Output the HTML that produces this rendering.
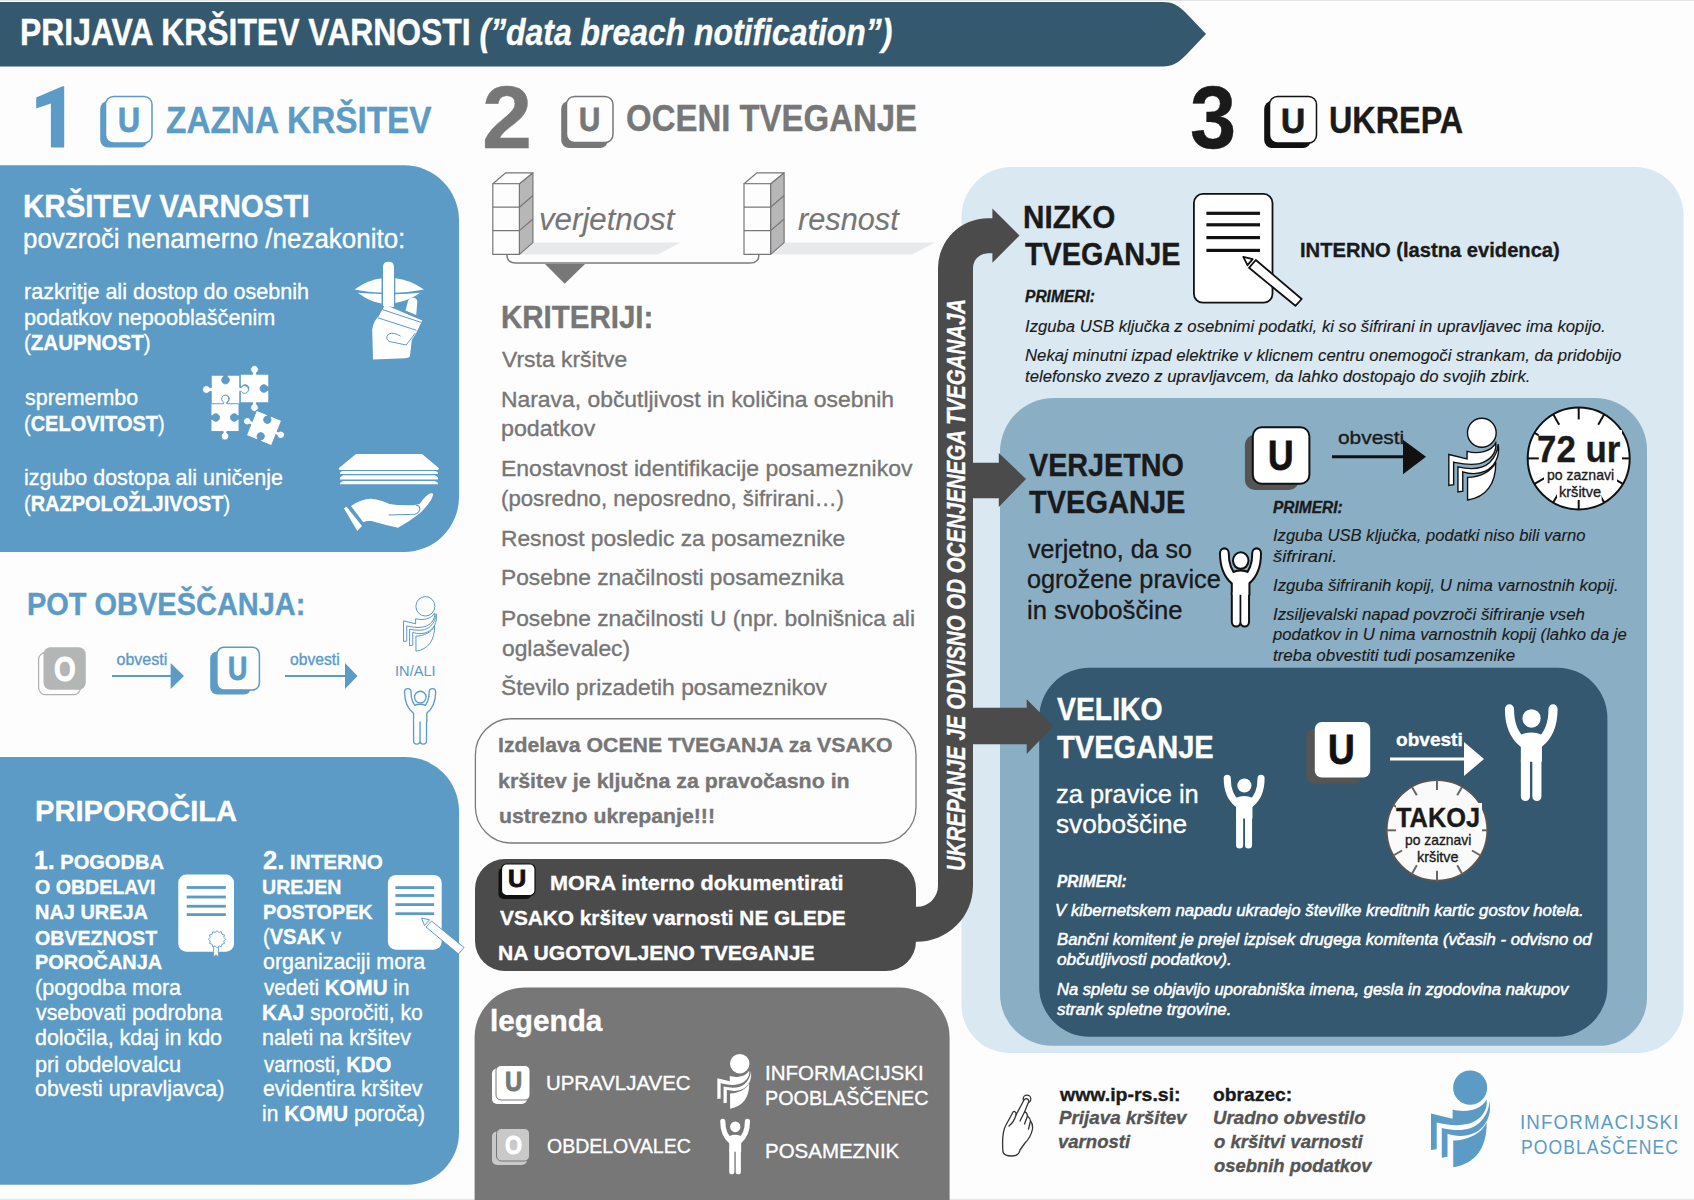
<!DOCTYPE html>
<html><head><meta charset="utf-8"><style>
html,body{margin:0;padding:0;}
body{width:1694px;height:1200px;position:relative;overflow:hidden;background:#fdfdfd;font-family:"Liberation Sans",sans-serif;}
.t{position:absolute;white-space:nowrap;transform-origin:0 0;-webkit-text-stroke:0.35px currentColor;}
.t b{font-weight:700}
.t i{font-style:italic}
svg{position:absolute;left:0;top:0;}
</style></head><body>
<svg width="1694" height="1200" viewBox="0 0 1694 1200">
<defs>
<symbol id="ip" viewBox="10 9 62 99" preserveAspectRatio="none" overflow="visible">
<circle cx="50.8" cy="27.3" r="17.3" vector-effect="non-scaling-stroke"/>
<path vector-effect="non-scaling-stroke" d="M11,53.2 L33,58.5 L33,49.4 C46,53 62,50 67.6,39.3 C69,52 60,61 48,64 C36,66.5 25,64 16.8,62.3 L16.8,89.2 L11,90 Z"/>
<path vector-effect="non-scaling-stroke" d="M22,68 C40,72 52,70 60,63 C66,57 70,50 70.5,40.7 C73,56 66,68 55,73 C46,77 36,76.5 27.8,73.8 L27.8,96.8 L22,97.8 Z"/>
<path vector-effect="non-scaling-stroke" d="M33.6,80.5 C48,80 62,74 67.6,62.3 C68,88 56,104 33.6,107.4 Z"/>
</symbol>
<symbol id="person" viewBox="9.6 6.9 53.2 96.1" preserveAspectRatio="none" overflow="visible">
<circle cx="36.5" cy="20.9" r="9.2"/>
<path d="M14.2,11.5 C14.2,26 19,38 28,45 M58.2,11.5 C58.2,26 53.4,38 44.4,45" fill="none" stroke-width="9.2" stroke-linecap="round"/>
<path d="M25.7,36 Q36.3,32.5 47,36 L47,64 L25.7,64 Z"/>
<path d="M30.3,62 L30.3,98.3 M41.9,62 L41.9,98.3" fill="none" stroke-width="9.2" stroke-linecap="round"/>
</symbol>
</defs>
<rect x="0" y="0" width="1694" height="1" fill="#e4e5e7"/>
<rect x="0" y="1198.8" width="1694" height="1.2" fill="#e6e7e9"/>
<path d="M0,2 H1163 C1172,2 1178,5 1186,13 L1206,34 L1186,55 C1178,63 1172,66.5 1163,66.5 H0 Z" fill="#34596f"/>
<path d="M-60.00,165.30 H404.00 A55,55 0 0 1 459.00,220.30 V497.00 A55,55 0 0 1 404.00,552.00 H-60.00 V165.30 Z" fill="#5b9bc6" />
<path d="M-60.00,757.00 H405.00 A54,54 0 0 1 459.00,811.00 V1132.70 A52,52 0 0 1 407.00,1184.70 H-60.00 V757.00 Z" fill="#5b9bc6" />
<path d="M1011.50,167.00 H1635.50 A48,48 0 0 1 1683.50,215.00 V1007.00 A46,46 0 0 1 1637.50,1053.00 H1009.50 A48,48 0 0 1 961.50,1005.00 V217.00 A50,50 0 0 1 1011.50,167.00 Z" fill="#d9e8f1" />
<path d="M1054.00,398.00 H1595.00 A52,52 0 0 1 1647.00,450.00 V997.80 A48,48 0 0 1 1599.00,1045.80 H1052.00 A52,52 0 0 1 1000.00,993.80 V452.00 A54,54 0 0 1 1054.00,398.00 Z" fill="#8aafc5" />
<path d="M1089.20,667.80 H1557.40 A50,50 0 0 1 1607.40,717.80 V986.70 A50,50 0 0 1 1557.40,1036.70 H1089.20 A50,50 0 0 1 1039.20,986.70 V717.80 A50,50 0 0 1 1089.20,667.80 Z" fill="#34586f" />
<rect x="475.4" y="718.75" width="440.6" height="124.25" rx="36" fill="#fdfdfd" stroke="#7a7a7a" stroke-width="1.3"/>
<path d="M505.00,859.00 H886.00 A30,30 0 0 1 916.00,889.00 V941.00 A30,30 0 0 1 886.00,971.00 H505.00 A30,30 0 0 1 475.00,941.00 V889.00 A30,30 0 0 1 505.00,859.00 Z" fill="#4b4b4b" />
<path d="M524.60,987.50 H899.60 A50,50 0 0 1 949.60,1037.50 V1200.00 H474.60 V1037.50 A50,50 0 0 1 524.60,987.50 Z" fill="#777777" />
<path d="M938,268 A50,50 0 0 1 988,218.2 H992.4 V208.6 L1019.5,235.4 L992.4,262.8 V253.2 H988 A15,15 0 0 0 973,268.2 V462.8 H998.8 V453 L1026,479 L998.8,507 V498.2 H973 V707.7 H1026.7 V699.3 L1053.3,726 L1026.7,754 V744.3 H973 V885.75 A56,56 0 0 1 917,941.75 H900 V906.8 H917 A21,21 0 0 0 938,885.8 Z" fill="#4b4b4b"/>
<rect x="100.20" y="101.00" width="47.40" height="46.60" rx="8" fill="#5b9bc6"/>
<rect x="105.50" y="96.50" width="46.50" height="46.50" rx="8" fill="#fdfdfd" stroke="#5b9bc6" stroke-width="1.5"/>
<rect x="561.20" y="101.00" width="46.80" height="47.00" rx="8" fill="#777"/>
<rect x="566.50" y="96.50" width="46.50" height="46.00" rx="8" fill="#fdfdfd" stroke="#777" stroke-width="1.5"/>
<rect x="1264.20" y="101.00" width="46.80" height="47.00" rx="8" fill="#111"/>
<rect x="1269.50" y="96.50" width="47.00" height="46.50" rx="8" fill="#fdfdfd" stroke="#111" stroke-width="1.5"/>
<rect x="38.60" y="652.60" width="42.00" height="42.00" rx="7" fill="#fdfdfd" stroke="#b0b0b0" stroke-width="1.2"/>
<rect x="43.50" y="647.25" width="42.25" height="42.50" rx="7" fill="#b4b5b5"/>
<rect x="210.20" y="651.50" width="40.80" height="43.10" rx="7" fill="#5b9bc6"/>
<rect x="216.90" y="647.30" width="42.50" height="42.70" rx="7" fill="#fdfdfd" stroke="#5b9bc6" stroke-width="1.5"/>
<rect x="498.50" y="867.50" width="33.00" height="31.50" rx="5" fill="#111"/>
<rect x="501.50" y="864.00" width="33.50" height="31.50" rx="5" fill="#fff" stroke="#111" stroke-width="1.2"/>
<rect x="492.00" y="1068.50" width="35.00" height="35.50" rx="5" fill="#fff"/>
<rect x="496.00" y="1065.50" width="34.00" height="34.50" rx="5" fill="#fff" stroke="#777" stroke-width="1"/>
<rect x="492.00" y="1131.50" width="35.00" height="33.50" rx="5" fill="#c9c9c9"/>
<rect x="496.50" y="1128.50" width="33.00" height="32.50" rx="5" fill="#c9c9c9" stroke="#777" stroke-width="1"/>
<rect x="1244.90" y="434.70" width="54.10" height="55.30" rx="10" fill="#545454"/>
<rect x="1252.80" y="427.20" width="56.60" height="56.60" rx="9" fill="#fff" stroke="#111" stroke-width="2"/>
<rect x="1306.30" y="728.80" width="54.90" height="54.90" rx="8" fill="#555"/>
<rect x="1314.80" y="722.00" width="55.40" height="55.60" rx="7" fill="#fff"/>
<line x1="112.00" y1="676.00" x2="171.60" y2="676.00" stroke="#5b9bc6" stroke-width="1.8"/>
<path d="M170.60,663.00 L184.00,676.00 L170.60,689.00 Z" fill="#5b9bc6"/>
<line x1="285.00" y1="676.00" x2="346.00" y2="676.00" stroke="#5b9bc6" stroke-width="1.8"/>
<path d="M345.00,663.00 L357.50,676.00 L345.00,689.00 Z" fill="#5b9bc6"/>
<line x1="1332.00" y1="456.80" x2="1404.00" y2="456.80" stroke="#111" stroke-width="3"/>
<path d="M1403.00,439.70 L1426.00,456.80 L1403.00,474.30 Z" fill="#111"/>
<line x1="1390.00" y1="759.00" x2="1465.00" y2="759.00" stroke="#fff" stroke-width="3"/>
<path d="M1464.00,742.00 L1484.00,759.00 L1464.00,776.00 Z" fill="#fff"/>
<use href="#ip" x="403.00" y="596.00" width="34.00" height="55.60" fill="#fdfdfd" stroke="#5b9bc6" stroke-width="1.0"/>
<use href="#ip" x="1430.00" y="1069.50" width="61.00" height="98.30" fill="#5b9bc6"/>
<use href="#ip" x="716.80" y="1053.40" width="34.90" height="55.60" fill="#fff"/>
<use href="#ip" x="1448.00" y="417.40" width="51.40" height="83.10" fill="#fff" stroke="#111" stroke-width="1.4"/>
<polygon points="64.2,86.3 64.2,147.6 50.9,147.6 50.9,103.5 36.2,108.5 36.2,97.5 62.5,86.3" fill="#5b9bc6"/>
<g transform="translate(405.20,689.20) scale(0.5602,0.5650) translate(-9.6,-6.9)"><circle cx="36.5" cy="20.9" r="11.52" fill="#5b9bc6"/><path d="M14.2,11.5 C14.2,26 19,38 28,45 M58.2,11.5 C58.2,26 53.4,38 44.4,45" fill="none" stroke="#5b9bc6" stroke-width="13.84" stroke-linecap="round"/><path d="M25.7,37 Q36.3,32.5 47,37 L47,64 L25.7,64 Z" fill="#5b9bc6" stroke="#5b9bc6" stroke-width="4.64" stroke-linejoin="round"/><path d="M30.3,62 L30.3,98.3 M41.9,62 L41.9,98.3" fill="none" stroke="#5b9bc6" stroke-width="13.84" stroke-linecap="round"/><circle cx="36.5" cy="20.9" r="9.20" fill="#fdfdfd"/><path d="M14.2,11.5 C14.2,26 19,38 28,45 M58.2,11.5 C58.2,26 53.4,38 44.4,45" fill="none" stroke="#fdfdfd" stroke-width="9.20" stroke-linecap="round"/><path d="M25.7,37 Q36.3,32.5 47,37 L47,64 L25.7,64 Z" fill="#fdfdfd" stroke="#fdfdfd" stroke-width="0.01" stroke-linejoin="round"/><path d="M30.3,62 L30.3,98.3 M41.9,62 L41.9,98.3" fill="none" stroke="#fdfdfd" stroke-width="9.20" stroke-linecap="round"/></g>
<g transform="translate(1221.00,549.50) scale(0.7331,0.7908) translate(-9.6,-6.9)"><circle cx="36.5" cy="20.9" r="11.93" fill="#111"/><path d="M14.2,11.5 C14.2,26 19,38 28,45 M58.2,11.5 C58.2,26 53.4,38 44.4,45" fill="none" stroke="#111" stroke-width="14.66" stroke-linecap="round"/><path d="M25.7,37 Q36.3,32.5 47,37 L47,64 L25.7,64 Z" fill="#111" stroke="#111" stroke-width="5.46" stroke-linejoin="round"/><path d="M30.3,62 L30.3,98.3 M41.9,62 L41.9,98.3" fill="none" stroke="#111" stroke-width="14.66" stroke-linecap="round"/><circle cx="36.5" cy="20.9" r="9.20" fill="#fff"/><path d="M14.2,11.5 C14.2,26 19,38 28,45 M58.2,11.5 C58.2,26 53.4,38 44.4,45" fill="none" stroke="#fff" stroke-width="9.20" stroke-linecap="round"/><path d="M25.7,37 Q36.3,32.5 47,37 L47,64 L25.7,64 Z" fill="#fff" stroke="#fff" stroke-width="0.01" stroke-linejoin="round"/><path d="M30.3,62 L30.3,98.3 M41.9,62 L41.9,98.3" fill="none" stroke="#fff" stroke-width="9.20" stroke-linecap="round"/></g>
<g transform="translate(1223.70,774.70) scale(0.7688,0.7680) translate(-9.6,-6.9)"><circle cx="36.5" cy="20.9" r="9.20" fill="#fff"/><path d="M14.2,11.5 C14.2,26 19,38 28,45 M58.2,11.5 C58.2,26 53.4,38 44.4,45" fill="none" stroke="#fff" stroke-width="9.20" stroke-linecap="round"/><path d="M25.7,37 Q36.3,32.5 47,37 L47,64 L25.7,64 Z" fill="#fff" stroke="#fff" stroke-width="0.01" stroke-linejoin="round"/><path d="M30.3,62 L30.3,98.3 M41.9,62 L41.9,98.3" fill="none" stroke="#fff" stroke-width="9.20" stroke-linecap="round"/></g>
<g transform="translate(1504.90,704.30) scale(0.9906,1.0083) translate(-9.6,-6.9)"><circle cx="36.5" cy="20.9" r="9.20" fill="#fff"/><path d="M14.2,11.5 C14.2,26 19,38 28,45 M58.2,11.5 C58.2,26 53.4,38 44.4,45" fill="none" stroke="#fff" stroke-width="9.20" stroke-linecap="round"/><path d="M25.7,37 Q36.3,32.5 47,37 L47,64 L25.7,64 Z" fill="#fff" stroke="#fff" stroke-width="0.01" stroke-linejoin="round"/><path d="M30.3,62 L30.3,98.3 M41.9,62 L41.9,98.3" fill="none" stroke="#fff" stroke-width="9.20" stroke-linecap="round"/></g>
<g transform="translate(720.20,1118.70) scale(0.5602,0.5796) translate(-9.6,-6.9)"><circle cx="36.5" cy="20.9" r="9.20" fill="#fff"/><path d="M14.2,11.5 C14.2,26 19,38 28,45 M58.2,11.5 C58.2,26 53.4,38 44.4,45" fill="none" stroke="#fff" stroke-width="9.20" stroke-linecap="round"/><path d="M25.7,37 Q36.3,32.5 47,37 L47,64 L25.7,64 Z" fill="#fff" stroke="#fff" stroke-width="0.01" stroke-linejoin="round"/><path d="M30.3,62 L30.3,98.3 M41.9,62 L41.9,98.3" fill="none" stroke="#fff" stroke-width="9.20" stroke-linecap="round"/></g>
<g transform="translate(340,250) scale(0.1)" fill="#fff">
<path d="M430,560 L430,170 Q430,118 485,118 Q540,118 540,170 L540,570 Z"/>
<path d="M145,395 Q290,295 415,283 L415,425 Q290,425 145,395 Z"/>
<path d="M178,428 Q290,438 415,440 L415,535 Q300,520 178,428 Z"/>
<path d="M553,283 Q690,295 840,395 Q700,422 553,428 Z"/>
<path d="M553,442 Q690,440 800,428 Q700,505 553,530 Z"/>
<path d="M330,1095 L322,800 Q330,715 385,665 L450,548 L822,705 L762,830 L718,900 L700,1060 Q690,1080 650,1082 Z"/>
<path d="M655,605 L682,505 Q700,470 740,478 Q780,490 772,530 L762,650 Z"/>
<path d="M425,596 L815,725 M378,678 L765,803" stroke="#5b9bc6" stroke-width="10" fill="none"/>
<path d="M607,862 Q540,818 485,840 Q445,880 492,915 L662,950 L752,832" stroke="#5b9bc6" stroke-width="10" fill="none"/>
</g>
<g transform="translate(195,360)">
<path transform="translate(59.50,28.50) rotate(0)" d="M-14.25,-14.25 L-1.85,-14.25 L-1.85,-15.72 A3.85,3.85 0 1 1 1.85,-15.72 L1.85,-14.25 L14.25,-14.25 L14.25,-1.85 L12.78,-1.85 A3.85,3.85 0 1 0 12.78,1.85 L14.25,1.85 L14.25,14.25 L1.85,14.25 L1.85,15.72 A3.85,3.85 0 1 1 -1.85,15.72 L-1.85,14.25 L-14.25,14.25 L-14.25,1.85 L-12.78,1.85 A3.85,3.85 0 1 0 -12.78,-1.85 L-14.25,-1.85 L-14.25,-14.25 Z" fill="#fff" stroke="#5b9bc6" stroke-width="0.9"/>
<path transform="translate(30.00,57.50) rotate(0)" d="M-14.00,-14.00 L-1.82,-14.00 L-1.82,-15.45 A3.78,3.78 0 1 1 1.82,-15.45 L1.82,-14.00 L14.00,-14.00 L14.00,-1.82 L12.55,-1.82 A3.78,3.78 0 1 0 12.55,1.82 L14.00,1.82 L14.00,14.00 L1.82,14.00 L1.82,15.45 A3.78,3.78 0 1 1 -1.82,15.45 L-1.82,14.00 L-14.00,14.00 L-14.00,1.82 L-12.55,1.82 A3.78,3.78 0 1 0 -12.55,-1.82 L-14.00,-1.82 L-14.00,-14.00 Z" fill="#fff" stroke="#5b9bc6" stroke-width="0.9"/>
<path transform="translate(30.50,29.50) rotate(0)" d="M-14.25,-14.25 L-1.85,-14.25 L-1.85,-12.78 A3.85,3.85 0 1 0 1.85,-12.78 L1.85,-14.25 L14.25,-14.25 L14.25,-1.85 L15.72,-1.85 A3.85,3.85 0 1 1 15.72,1.85 L14.25,1.85 L14.25,14.25 L1.85,14.25 L1.85,12.78 A3.85,3.85 0 1 0 -1.85,12.78 L-1.85,14.25 L-14.25,14.25 L-14.25,1.85 L-15.72,1.85 A3.85,3.85 0 1 1 -15.72,-1.85 L-14.25,-1.85 L-14.25,-14.25 Z" fill="#fff" stroke="#5b9bc6" stroke-width="0.9"/>
<path transform="translate(69.00,68.00) rotate(22)" d="M-13.50,-13.50 L-1.76,-13.50 L-1.76,-12.10 A3.65,3.65 0 1 0 1.76,-12.10 L1.76,-13.50 L13.50,-13.50 L13.50,-1.76 L14.90,-1.76 A3.65,3.65 0 1 1 14.90,1.76 L13.50,1.76 L13.50,13.50 L1.76,13.50 L1.76,12.10 A3.65,3.65 0 1 0 -1.76,12.10 L-1.76,13.50 L-13.50,13.50 L-13.50,1.76 L-14.90,1.76 A3.65,3.65 0 1 1 -14.90,-1.76 L-13.50,-1.76 L-13.50,-13.50 Z" fill="#fff" stroke="#5b9bc6" stroke-width="0.9"/>
</g>
<g transform="translate(330,445)" fill="#fff">
<path d="M26,9.1 L92,9.1 L109,23.2 L108,25 L9.5,25 L8.7,23.2 Z"/>
<path d="M10,27.8 L12,26 L106,26 L108,27.8 L108,29 L10,29 Z"/>
<path d="M10,32.5 L13,30.2 L105,30.2 L108,32.5 L108,34.6 L10,34.6 Z"/>
<path d="M10,38 L13,36 L105,36 L108,38 L108,39.3 L10,39.3 Z"/>
<path d="M13.9,63.3 L16.6,61.8 L32,81 L27.3,86 Z"/>
<path d="M21,61 Q31,54 41,53.8 Q52,55 59.4,59 Q69,60.8 84,60.2 L89.5,59 Q96,50 100,48.5 Q103.5,47.5 103,50 Q102,56 91,67.3 Q85,72 79.2,76 L68.1,82.7 Q55,80 41.2,76 Q36,75.5 33.3,77.2 Z"/>
<path d="M58.6,70 L85,69.3 Q89.5,68 89.8,63.5 Q89.5,60.5 86,60.3" fill="none" stroke="#5b9bc6" stroke-width="1.1"/>
<path d="M85,56 L95,48 M87,58 L97,49.5" fill="none" stroke="#5b9bc6" stroke-width="0.5"/>
</g>
<g transform="translate(170,865)">
<rect x="8.3" y="9.6" width="55.7" height="77.1" rx="8" fill="#fff"/>
<rect x="16.7" y="21.10" width="39.1" height="2.8" fill="#5b9bc6"/>
<rect x="16.7" y="30.60" width="39.1" height="2.8" fill="#5b9bc6"/>
<rect x="16.7" y="39.85" width="39.1" height="2.8" fill="#5b9bc6"/>
<rect x="16.7" y="48.20" width="39.1" height="2.8" fill="#5b9bc6"/>
<path d="M43.5,80 L43.5,92 L46,90 L48.5,92 L48.5,80 Z" fill="#fff" stroke="#5b9bc6" stroke-width="0.8"/>
<polygon points="55.60,74.20 53.76,76.01 54.45,78.50 51.95,79.15 51.30,81.65 48.81,80.96 47.00,82.80 45.19,80.96 42.70,81.65 42.05,79.15 39.55,78.50 40.24,76.01 38.40,74.20 40.24,72.39 39.55,69.90 42.05,69.25 42.70,66.75 45.19,67.44 47.00,65.60 48.81,67.44 51.30,66.75 51.95,69.25 54.45,69.90 53.76,72.39" fill="#fff" stroke="#5b9bc6" stroke-width="0.9"/>
</g>
<g transform="translate(378.00,865.00)"><rect x="9.90" y="9.90" width="53.80" height="74.80" rx="8" fill="#fff" /><rect x="17.40" y="21.20" width="38.80" height="2.80" fill="#5b9bc6"/><rect x="17.40" y="29.10" width="38.80" height="2.80" fill="#5b9bc6"/><rect x="17.40" y="38.20" width="38.80" height="2.80" fill="#5b9bc6"/><rect x="17.40" y="47.30" width="38.80" height="2.80" fill="#5b9bc6"/><polygon points="43.5,53 51.5,54.8 46.5,60.5" fill="#fff" stroke="#5b9bc6" stroke-width="1.0" stroke-linejoin="round"/><polygon points="53.5,56 48,62 80.5,89 86,82.5" fill="#fff" stroke="#5b9bc6" stroke-width="1.0" stroke-linejoin="round"/></g>
<g transform="translate(1185.00,185.00)"><rect x="8.90" y="8.90" width="78.60" height="108.80" rx="9" fill="#fff" stroke="#111" stroke-width="1.8"/><rect x="21.40" y="26.70" width="53.60" height="3.20" fill="#111"/><rect x="21.40" y="38.20" width="53.60" height="3.20" fill="#111"/><rect x="21.40" y="51.00" width="53.60" height="3.20" fill="#111"/><rect x="21.40" y="63.80" width="53.60" height="3.20" fill="#111"/><polygon points="58.3,71.9 67.7,74.2 62.5,80.2" fill="#fff" stroke="#111" stroke-width="1.8" stroke-linejoin="round"/><polygon points="70.8,75 64,82.8 110.4,120.8 116.7,114" fill="#fff" stroke="#111" stroke-width="1.8" stroke-linejoin="round"/></g>
<polygon points="519.4,254.4 533,242.6 681,242.6 658,254.4" fill="#e8e9eb"/>
<polygon points="770.6,254.4 784.1,242.6 935,242.6 912,254.4" fill="#e8e9eb"/>
<path d="M506.9,254.4 Q506.9,263 516,263 H750 Q759,263 759,254.4" fill="none" stroke="#7a7a7a" stroke-width="1.4"/>
<g transform="translate(485.00,165)" stroke="#777" stroke-width="1.2" stroke-linejoin="round"><polygon points="34.4,18.75 47.9,7.8 47.9,77.6 34.4,89.4" fill="#b7b7b7"/><polygon points="7.8,18.75 20.8,7.8 47.9,7.8 34.4,18.75" fill="#fdfdfd"/><rect x="7.8" y="18.75" width="26.6" height="70.65" fill="#fdfdfd"/><path d="M7.8,42.2 H34.4 M7.8,65.6 H34.4 M34.4,42.2 L47.9,30.5 M34.4,65.6 L47.9,54" fill="none"/></g>
<g transform="translate(736.20,165)" stroke="#777" stroke-width="1.2" stroke-linejoin="round"><polygon points="34.4,18.75 47.9,7.8 47.9,77.6 34.4,89.4" fill="#b7b7b7"/><polygon points="7.8,18.75 20.8,7.8 47.9,7.8 34.4,18.75" fill="#fdfdfd"/><rect x="7.8" y="18.75" width="26.6" height="70.65" fill="#fdfdfd"/><path d="M7.8,42.2 H34.4 M7.8,65.6 H34.4 M34.4,42.2 L47.9,30.5 M34.4,65.6 L47.9,54" fill="none"/></g>
<polygon points="545,264 585,264 564.7,283.75" fill="#777"/>
<circle cx="1578.70" cy="458.40" r="51.00" fill="#fff" stroke="#111" stroke-width="2"/><line x1="1629.70" y1="458.40" x2="1617.70" y2="458.40" stroke="#111" stroke-width="2"/><line x1="1622.87" y1="483.90" x2="1612.47" y2="477.90" stroke="#111" stroke-width="2"/><line x1="1604.20" y1="502.57" x2="1598.20" y2="492.17" stroke="#111" stroke-width="2"/><line x1="1578.70" y1="509.40" x2="1578.70" y2="497.40" stroke="#111" stroke-width="2"/><line x1="1553.20" y1="502.57" x2="1559.20" y2="492.17" stroke="#111" stroke-width="2"/><line x1="1534.53" y1="483.90" x2="1544.93" y2="477.90" stroke="#111" stroke-width="2"/><line x1="1527.70" y1="458.40" x2="1539.70" y2="458.40" stroke="#111" stroke-width="2"/><line x1="1534.53" y1="432.90" x2="1544.93" y2="438.90" stroke="#111" stroke-width="2"/><line x1="1553.20" y1="414.23" x2="1559.20" y2="424.63" stroke="#111" stroke-width="2"/><line x1="1578.70" y1="407.40" x2="1578.70" y2="419.40" stroke="#111" stroke-width="2"/><line x1="1604.20" y1="414.23" x2="1598.20" y2="424.63" stroke="#111" stroke-width="2"/><line x1="1622.87" y1="432.90" x2="1612.47" y2="438.90" stroke="#111" stroke-width="2"/>
<circle cx="1437.00" cy="830.30" r="50.40" fill="#fafafa" stroke="#555" stroke-width="2"/><line x1="1487.40" y1="830.30" x2="1477.40" y2="830.30" stroke="#666" stroke-width="2"/><line x1="1480.65" y1="855.50" x2="1471.99" y2="850.50" stroke="#666" stroke-width="2"/><line x1="1462.20" y1="873.95" x2="1457.20" y2="865.29" stroke="#666" stroke-width="2"/><line x1="1437.00" y1="880.70" x2="1437.00" y2="870.70" stroke="#666" stroke-width="2"/><line x1="1411.80" y1="873.95" x2="1416.80" y2="865.29" stroke="#666" stroke-width="2"/><line x1="1393.35" y1="855.50" x2="1402.01" y2="850.50" stroke="#666" stroke-width="2"/><line x1="1386.60" y1="830.30" x2="1396.60" y2="830.30" stroke="#666" stroke-width="2"/><line x1="1393.35" y1="805.10" x2="1402.01" y2="810.10" stroke="#666" stroke-width="2"/><line x1="1411.80" y1="786.65" x2="1416.80" y2="795.31" stroke="#666" stroke-width="2"/><line x1="1437.00" y1="779.90" x2="1437.00" y2="789.90" stroke="#666" stroke-width="2"/><line x1="1462.20" y1="786.65" x2="1457.20" y2="795.31" stroke="#666" stroke-width="2"/><line x1="1480.65" y1="805.10" x2="1471.99" y2="810.10" stroke="#666" stroke-width="2"/>
<rect x="1538.8" y="430" width="83.2" height="36" fill="#fff"/><rect x="1544" y="466" width="73" height="17" fill="#fff"/><rect x="1557" y="483" width="44.6" height="17" fill="#fff"/>
<rect x="1396" y="803" width="86" height="30" fill="#fafafa"/>
<g transform="translate(990,1085)" fill="#fff" stroke="#333" stroke-width="1.3" stroke-linejoin="round" stroke-linecap="round">
<circle cx="37" cy="14" r="3.8" fill="none"/>
<path d="M13,67 C12,55 13,45 16,40 L23,27 Q24.5,25.5 26,28 L26,30 L34,15 Q37,12 39,16 L34.5,27 Q37,27 37.5,31 Q40,33 40.5,36 Q43,39 42.5,44 Q41,52 35,58 L30,65 Q29,71 22,71 Q14,71 13,67 Z"/>
<path d="M19,41 Q24,37 26,30 M30,36 L34.5,27 M34.5,39 L37.5,31 M38.5,44 L40.5,36" fill="none"/>
</g>
</svg>
<div class="t" id="t0" style="left:20.37px;top:14.53px;font-size:36px;color:#fff;font-weight:700;font-style:normal;line-height:36px;transform:scaleX(0.8859);">PRIJAVA KRŠITEV VARNOSTI <i>(”data breach notification”)</i></div>
<div class="t" id="t1" style="left:166.35px;top:103.03px;font-size:36px;color:#5b9bc6;font-weight:700;font-style:normal;line-height:36px;transform:scaleX(0.9266);">ZAZNA KRŠITEV</div>
<div class="t" id="t2" style="left:482.47px;top:72.66px;font-size:89px;color:#777;font-weight:700;font-style:normal;line-height:89px;transform:scaleX(1.0116);">2</div>
<div class="t" id="t3" style="left:626.29px;top:99.68px;font-size:37px;color:#777;font-weight:700;font-style:normal;line-height:37px;transform:scaleX(0.8904);">OCENI TVEGANJE</div>
<div class="t" id="t4" style="left:1189.87px;top:72.66px;font-size:89px;color:#1a1a1a;font-weight:700;font-style:normal;line-height:89px;transform:scaleX(0.9318);">3</div>
<div class="t" id="t5" style="left:1329.42px;top:101.68px;font-size:37px;color:#1a1a1a;font-weight:700;font-style:normal;line-height:37px;transform:scaleX(0.8742);">UKREPA</div>
<div class="t" id="t6" style="left:117.90px;top:102.37px;font-size:35px;color:#5b9bc6;font-weight:700;font-style:normal;line-height:35px;transform:scaleX(0.8696);-webkit-text-stroke:0.9px currentColor;">U</div>
<div class="t" id="t7" style="left:578.99px;top:102.22px;font-size:34px;color:#777;font-weight:700;font-style:normal;line-height:34px;transform:scaleX(0.8636);-webkit-text-stroke:0.9px currentColor;">U</div>
<div class="t" id="t8" style="left:1281.43px;top:102.87px;font-size:35px;color:#1a1a1a;font-weight:700;font-style:normal;line-height:35px;transform:scaleX(0.9545);-webkit-text-stroke:0.9px currentColor;">U</div>
<div class="t" id="t9" style="left:23.45px;top:191.16px;font-size:31px;color:#fff;font-weight:700;font-style:normal;line-height:31px;transform:scaleX(0.9529);">KRŠITEV VARNOSTI</div>
<div class="t" id="t10" style="left:23.26px;top:225.64px;font-size:27px;color:#fff;font-weight:400;font-style:normal;line-height:27px;transform:scaleX(0.9612);">povzroči nenamerno /nezakonito:</div>
<div class="t" id="t11" style="left:24.10px;top:281.18px;font-size:22px;color:#fff;font-weight:400;font-style:normal;line-height:22px;transform:scaleX(0.9792);">razkritje ali dostop do osebnih</div>
<div class="t" id="t12" style="left:24.03px;top:306.78px;font-size:22px;color:#fff;font-weight:400;font-style:normal;line-height:22px;transform:scaleX(0.9831);">podatkov nepooblaščenim</div>
<div class="t" id="t13" style="left:24.31px;top:332.18px;font-size:22px;color:#fff;font-weight:400;font-style:normal;line-height:22px;transform:scaleX(0.9328);">(<b>ZAUPNOST</b>)</div>
<div class="t" id="t14" style="left:25.00px;top:386.88px;font-size:22px;color:#fff;font-weight:400;font-style:normal;line-height:22px;transform:scaleX(0.9741);">spremembo</div>
<div class="t" id="t15" style="left:24.40px;top:412.68px;font-size:22px;color:#fff;font-weight:400;font-style:normal;line-height:22px;transform:scaleX(0.9085);">(<b>CELOVITOST</b>)</div>
<div class="t" id="t16" style="left:24.10px;top:467.38px;font-size:22px;color:#fff;font-weight:400;font-style:normal;line-height:22px;transform:scaleX(0.9754);">izgubo dostopa ali uničenje</div>
<div class="t" id="t17" style="left:24.40px;top:493.08px;font-size:22px;color:#fff;font-weight:400;font-style:normal;line-height:22px;transform:scaleX(0.9071);">(<b>RAZPOLOŽLJIVOST</b>)</div>
<div class="t" id="t18" style="left:26.50px;top:589.26px;font-size:31px;color:#5b9bc6;font-weight:700;font-style:normal;line-height:31px;transform:scaleX(0.9344);">POT OBVEŠČANJA:</div>
<div class="t" id="t19" style="left:116.50px;top:651.86px;font-size:16px;color:#5b9bc6;font-weight:400;font-style:normal;line-height:16px;">obvesti</div>
<div class="t" id="t20" style="left:290.00px;top:651.86px;font-size:16px;color:#5b9bc6;font-weight:400;font-style:normal;line-height:16px;transform:scaleX(0.9800);">obvesti</div>
<div class="t" id="t21" style="left:395.10px;top:663.30px;font-size:15px;color:#5b9bc6;font-weight:400;font-style:normal;line-height:15px;transform:scaleX(0.9750);-webkit-text-stroke:0;">IN/ALI</div>
<div class="t" id="t22" style="left:53.64px;top:650.62px;font-size:35px;color:#fff;font-weight:700;font-style:normal;line-height:35px;transform:scaleX(0.7981);-webkit-text-stroke:0.9px currentColor;">O</div>
<div class="t" id="t23" style="left:227.63px;top:652.79px;font-size:32.5px;color:#5b9bc6;font-weight:700;font-style:normal;line-height:32.5px;transform:scaleX(0.8214);-webkit-text-stroke:0.9px currentColor;">U</div>
<div class="t" id="t24" style="left:34.74px;top:797.45px;font-size:29px;color:#fff;font-weight:700;font-style:normal;line-height:29px;transform:scaleX(1.0030);">PRIPOROČILA</div>
<div class="t" id="t25" style="left:34.34px;top:850.22px;font-size:21px;color:#fff;font-weight:700;font-style:normal;line-height:21px;transform:scaleX(0.9552);"><span style="font-size:26px">1.</span> POGODBA</div>
<div class="t" id="t26" style="left:35.31px;top:875.82px;font-size:21px;color:#fff;font-weight:700;font-style:normal;line-height:21px;transform:scaleX(0.9331);">O OBDELAVI</div>
<div class="t" id="t27" style="left:35.23px;top:900.92px;font-size:21px;color:#fff;font-weight:700;font-style:normal;line-height:21px;transform:scaleX(0.9492);">NAJ UREJA</div>
<div class="t" id="t28" style="left:35.30px;top:927.22px;font-size:21px;color:#fff;font-weight:700;font-style:normal;line-height:21px;transform:scaleX(0.9346);">OBVEZNOST</div>
<div class="t" id="t29" style="left:35.23px;top:951.22px;font-size:21px;color:#fff;font-weight:700;font-style:normal;line-height:21px;transform:scaleX(0.9474);">POROČANJA</div>
<div class="t" id="t30" style="left:35.10px;top:976.98px;font-size:22px;color:#fff;font-weight:400;font-style:normal;line-height:22px;transform:scaleX(0.9792);">(pogodba mora</div>
<div class="t" id="t31" style="left:36.00px;top:1002.08px;font-size:22px;color:#fff;font-weight:400;font-style:normal;line-height:22px;transform:scaleX(0.9688);">vsebovati podrobna</div>
<div class="t" id="t32" style="left:35.10px;top:1027.38px;font-size:22px;color:#fff;font-weight:400;font-style:normal;line-height:22px;transform:scaleX(0.9737);">določila, kdaj in kdo</div>
<div class="t" id="t33" style="left:35.01px;top:1053.88px;font-size:22px;color:#fff;font-weight:400;font-style:normal;line-height:22px;transform:scaleX(0.9863);">pri obdelovalcu</div>
<div class="t" id="t34" style="left:35.10px;top:1078.18px;font-size:22px;color:#fff;font-weight:400;font-style:normal;line-height:22px;transform:scaleX(0.9736);">obvesti upravljavca)</div>
<div class="t" id="t35" style="left:263.22px;top:850.22px;font-size:21px;color:#fff;font-weight:700;font-style:normal;line-height:21px;transform:scaleX(0.9826);"><span style="font-size:26px">2.</span> INTERNO</div>
<div class="t" id="t36" style="left:262.48px;top:875.82px;font-size:21px;color:#fff;font-weight:700;font-style:normal;line-height:21px;transform:scaleX(0.9325);">UREJEN</div>
<div class="t" id="t37" style="left:262.55px;top:900.92px;font-size:21px;color:#fff;font-weight:700;font-style:normal;line-height:21px;transform:scaleX(0.9426);">POSTOPEK</div>
<div class="t" id="t38" style="left:262.69px;top:926.38px;font-size:22px;color:#fff;font-weight:400;font-style:normal;line-height:22px;transform:scaleX(0.9106);">(<b>VSAK</b> v</div>
<div class="t" id="t39" style="left:263.22px;top:951.38px;font-size:22px;color:#fff;font-weight:400;font-style:normal;line-height:22px;transform:scaleX(0.9759);">organizaciji mora</div>
<div class="t" id="t40" style="left:264.10px;top:976.98px;font-size:22px;color:#fff;font-weight:400;font-style:normal;line-height:22px;transform:scaleX(0.9361);">vedeti <b>KOMU</b> in</div>
<div class="t" id="t41" style="left:262.41px;top:1002.08px;font-size:22px;color:#fff;font-weight:400;font-style:normal;line-height:22px;transform:scaleX(0.9602);"><b>KAJ</b> sporočiti, ko</div>
<div class="t" id="t42" style="left:262.32px;top:1027.38px;font-size:22px;color:#fff;font-weight:400;font-style:normal;line-height:22px;transform:scaleX(0.9743);">naleti na kršitev</div>
<div class="t" id="t43" style="left:264.06px;top:1053.88px;font-size:22px;color:#fff;font-weight:400;font-style:normal;line-height:22px;transform:scaleX(0.9210);">varnosti, <b>KDO</b></div>
<div class="t" id="t44" style="left:263.27px;top:1078.38px;font-size:22px;color:#fff;font-weight:400;font-style:normal;line-height:22px;transform:scaleX(0.9661);">evidentira kršitev</div>
<div class="t" id="t45" style="left:262.48px;top:1103.38px;font-size:22px;color:#fff;font-weight:400;font-style:normal;line-height:22px;transform:scaleX(0.9521);">in <b>KOMU</b> poroča)</div>
<div class="t" id="t46" style="left:538.92px;top:203.76px;font-size:31px;color:#767676;font-weight:400;font-style:italic;line-height:31px;transform:scaleX(1.0075);-webkit-text-stroke:0.12px currentColor;">verjetnost</div>
<div class="t" id="t47" style="left:798.00px;top:203.76px;font-size:31px;color:#767676;font-weight:400;font-style:italic;line-height:31px;transform:scaleX(0.9903);-webkit-text-stroke:0.12px currentColor;">resnost</div>
<div class="t" id="t48" style="left:501.20px;top:301.56px;font-size:31px;color:#767676;font-weight:700;font-style:normal;line-height:31px;transform:scaleX(0.9513);">KRITERIJI:</div>
<div class="t" id="t49" style="left:502.00px;top:349.08px;font-size:22px;color:#767676;font-weight:400;font-style:normal;line-height:22px;transform:scaleX(1.0417);">Vrsta kršitve</div>
<div class="t" id="t50" style="left:500.70px;top:389.38px;font-size:22px;color:#767676;font-weight:400;font-style:normal;line-height:22px;transform:scaleX(1.0399);">Narava, občutljivost in količina osebnih</div>
<div class="t" id="t51" style="left:500.56px;top:418.38px;font-size:22px;color:#767676;font-weight:400;font-style:normal;line-height:22px;transform:scaleX(1.0568);">podatkov</div>
<div class="t" id="t52" style="left:500.68px;top:458.38px;font-size:22px;color:#767676;font-weight:400;font-style:normal;line-height:22px;transform:scaleX(1.0448);">Enostavnost identifikacije posameznikov</div>
<div class="t" id="t53" style="left:500.91px;top:487.88px;font-size:22px;color:#767676;font-weight:400;font-style:normal;line-height:22px;transform:scaleX(1.0089);">(posredno, neposredno, šifrirani…)</div>
<div class="t" id="t54" style="left:500.72px;top:527.88px;font-size:22px;color:#767676;font-weight:400;font-style:normal;line-height:22px;transform:scaleX(1.0350);">Resnost posledic za posameznike</div>
<div class="t" id="t55" style="left:500.72px;top:567.38px;font-size:22px;color:#767676;font-weight:400;font-style:normal;line-height:22px;transform:scaleX(1.0350);">Posebne značilnosti posameznika</div>
<div class="t" id="t56" style="left:500.72px;top:607.98px;font-size:22px;color:#767676;font-weight:400;font-style:normal;line-height:22px;transform:scaleX(1.0352);">Posebne značilnosti U (npr. bolnišnica ali</div>
<div class="t" id="t57" style="left:501.82px;top:637.78px;font-size:22px;color:#767676;font-weight:400;font-style:normal;line-height:22px;transform:scaleX(1.0369);">oglaševalec)</div>
<div class="t" id="t58" style="left:500.72px;top:677.38px;font-size:22px;color:#767676;font-weight:400;font-style:normal;line-height:22px;transform:scaleX(1.0374);">Število prizadetih posameznikov</div>
<div class="t" id="t59" style="left:498.08px;top:734.22px;font-size:21px;color:#767676;font-weight:700;font-style:normal;line-height:21px;transform:scaleX(1.0113);">Izdelava OCENE TVEGANJA za VSAKO</div>
<div class="t" id="t60" style="left:498.01px;top:769.72px;font-size:21px;color:#767676;font-weight:700;font-style:normal;line-height:21px;transform:scaleX(1.0179);">kršitev je ključna za pravočasno in</div>
<div class="t" id="t61" style="left:499.11px;top:805.22px;font-size:21px;color:#767676;font-weight:700;font-style:normal;line-height:21px;transform:scaleX(1.0114);">ustrezno ukrepanje!!!</div>
<div class="t" id="t62" style="left:549.79px;top:872.22px;font-size:21px;color:#fff;font-weight:700;font-style:normal;line-height:21px;transform:scaleX(1.0300);">MORA interno dokumentirati</div>
<div class="t" id="t63" style="left:500.16px;top:907.22px;font-size:21px;color:#fff;font-weight:700;font-style:normal;line-height:21px;transform:scaleX(0.9908);">VSAKO kršitev varnosti NE GLEDE</div>
<div class="t" id="t64" style="left:498.16px;top:942.22px;font-size:21px;color:#fff;font-weight:700;font-style:normal;line-height:21px;transform:scaleX(1.0045);">NA UGOTOVLJENO TVEGANJE</div>
<div class="t" id="t65" style="left:508.34px;top:867.18px;font-size:24px;color:#111;font-weight:700;font-style:normal;line-height:24px;transform:scaleX(1.0500);-webkit-text-stroke:0.9px currentColor;">U</div>
<div class="t" id="t66" style="left:490.03px;top:1005.61px;font-size:30px;color:#fff;font-weight:700;font-style:normal;line-height:30px;transform:scaleX(0.9911);">legenda</div>
<div class="t" id="t67" style="left:546.18px;top:1071.82px;font-size:21px;color:#fff;font-weight:400;font-style:normal;line-height:21px;transform:scaleX(0.9726);">UPRAVLJAVEC</div>
<div class="t" id="t68" style="left:547.30px;top:1135.22px;font-size:21px;color:#fff;font-weight:400;font-style:normal;line-height:21px;transform:scaleX(0.9286);">OBDELOVALEC</div>
<div class="t" id="t69" style="left:765.21px;top:1062.22px;font-size:21px;color:#fff;font-weight:400;font-style:normal;line-height:21px;transform:scaleX(0.9780);">INFORMACIJSKI</div>
<div class="t" id="t70" style="left:765.43px;top:1087.22px;font-size:21px;color:#fff;font-weight:400;font-style:normal;line-height:21px;transform:scaleX(0.9404);">POOBLAŠČENEC</div>
<div class="t" id="t71" style="left:765.17px;top:1140.22px;font-size:21px;color:#fff;font-weight:400;font-style:normal;line-height:21px;transform:scaleX(0.9750);">POSAMEZNIK</div>
<div class="t" id="t72" style="left:504.90px;top:1069.14px;font-size:27px;color:#777;font-weight:700;font-style:normal;line-height:27px;transform:scaleX(0.8824);-webkit-text-stroke:0.9px currentColor;">U</div>
<div class="t" id="t73" style="left:504.62px;top:1131.99px;font-size:26px;color:#fff;font-weight:700;font-style:normal;line-height:26px;transform:scaleX(0.8421);-webkit-text-stroke:0.9px currentColor;">O</div>
<div class="t" id="t74" style="left:1022.84px;top:201.41px;font-size:32px;color:#1a1a1a;font-weight:700;font-style:normal;line-height:32px;transform:scaleX(0.9271);">NIZKO</div>
<div class="t" id="t75" style="left:1025.00px;top:237.91px;font-size:32px;color:#1a1a1a;font-weight:700;font-style:normal;line-height:32px;transform:scaleX(0.9012);">TVEGANJE</div>
<div class="t" id="t76" style="left:1300.04px;top:239.02px;font-size:21px;color:#1a1a1a;font-weight:700;font-style:normal;line-height:21px;transform:scaleX(0.9595);">INTERNO (lastna evidenca)</div>
<div class="t" id="t77" style="left:1025.00px;top:289.46px;font-size:16px;color:#1a1a1a;font-weight:700;font-style:italic;line-height:16px;transform:scaleX(0.9722);">PRIMERI:</div>
<div class="t" id="t78" style="left:1024.80px;top:319.16px;font-size:16px;color:#1a1a1a;font-weight:400;font-style:italic;line-height:16px;transform:scaleX(1.0432);-webkit-text-stroke:0.12px currentColor;">Izguba USB ključka z osebnimi podatki, ki so šifrirani in upravljavec ima kopijo.</div>
<div class="t" id="t79" style="left:1025.00px;top:348.46px;font-size:16px;color:#1a1a1a;font-weight:400;font-style:italic;line-height:16px;transform:scaleX(1.0493);-webkit-text-stroke:0.12px currentColor;">Nekaj minutni izpad elektrike v klicnem centru onemogoči strankam, da pridobijo</div>
<div class="t" id="t80" style="left:1024.80px;top:368.96px;font-size:16px;color:#1a1a1a;font-weight:400;font-style:italic;line-height:16px;transform:scaleX(1.0446);-webkit-text-stroke:0.12px currentColor;">telefonsko zvezo z upravljavcem, da lahko dostopajo do svojih zbirk.</div>
<div class="t" id="t81" style="left:1028.58px;top:448.51px;font-size:32px;color:#1a1a1a;font-weight:700;font-style:normal;line-height:32px;transform:scaleX(0.8983);">VERJETNO</div>
<div class="t" id="t82" style="left:1028.56px;top:485.91px;font-size:32px;color:#1a1a1a;font-weight:700;font-style:normal;line-height:32px;transform:scaleX(0.9070);">TVEGANJE</div>
<div class="t" id="t83" style="left:1028.00px;top:537.44px;font-size:25px;color:#1a1a1a;font-weight:400;font-style:normal;line-height:25px;transform:scaleX(0.9988);">verjetno, da so</div>
<div class="t" id="t84" style="left:1026.91px;top:567.34px;font-size:25px;color:#1a1a1a;font-weight:400;font-style:normal;line-height:25px;transform:scaleX(1.0105);">ogrožene pravice</div>
<div class="t" id="t85" style="left:1026.81px;top:597.84px;font-size:25px;color:#1a1a1a;font-weight:400;font-style:normal;line-height:25px;transform:scaleX(1.0267);">in svoboščine</div>
<div class="t" id="t86" style="left:1267.69px;top:433.90px;font-size:43px;color:#111;font-weight:700;font-style:normal;line-height:43px;transform:scaleX(0.8214);-webkit-text-stroke:0.9px currentColor;">U</div>
<div class="t" id="t87" style="left:1337.57px;top:427.92px;font-size:19px;color:#1a1a1a;font-weight:400;font-style:normal;line-height:19px;transform:scaleX(1.0983);">obvesti</div>
<div class="t" id="t88" style="left:1537.06px;top:431.38px;font-size:37px;color:#1a1a1a;font-weight:700;font-style:normal;line-height:37px;transform:scaleX(0.9425);">72 ur</div>
<div class="t" id="t89" style="left:1546.73px;top:467.00px;font-size:15px;color:#1a1a1a;font-weight:400;font-style:normal;line-height:15px;transform:scaleX(0.9357);">po zaznavi</div>
<div class="t" id="t90" style="left:1559.21px;top:483.50px;font-size:15px;color:#1a1a1a;font-weight:400;font-style:normal;line-height:15px;transform:scaleX(0.9690);">kršitve</div>
<div class="t" id="t91" style="left:1273.00px;top:499.96px;font-size:16px;color:#1a1a1a;font-weight:700;font-style:italic;line-height:16px;transform:scaleX(0.9667);">PRIMERI:</div>
<div class="t" id="t92" style="left:1272.85px;top:528.26px;font-size:16px;color:#1a1a1a;font-weight:400;font-style:italic;line-height:16px;transform:scaleX(1.0365);-webkit-text-stroke:0.12px currentColor;">Izguba USB ključka, podatki niso bili varno</div>
<div class="t" id="t93" style="left:1273.00px;top:549.26px;font-size:16px;color:#1a1a1a;font-weight:400;font-style:italic;line-height:16px;transform:scaleX(1.1481);-webkit-text-stroke:0.12px currentColor;">šifrirani.</div>
<div class="t" id="t94" style="left:1272.80px;top:577.96px;font-size:16px;color:#1a1a1a;font-weight:400;font-style:italic;line-height:16px;transform:scaleX(1.0476);-webkit-text-stroke:0.12px currentColor;">Izguba šifriranih kopij, U nima varnostnih kopij.</div>
<div class="t" id="t95" style="left:1272.79px;top:607.46px;font-size:16px;color:#1a1a1a;font-weight:400;font-style:italic;line-height:16px;transform:scaleX(1.0532);-webkit-text-stroke:0.12px currentColor;">Izsiljevalski napad povzroči šifriranje vseh</div>
<div class="t" id="t96" style="left:1273.07px;top:627.26px;font-size:16px;color:#1a1a1a;font-weight:400;font-style:italic;line-height:16px;transform:scaleX(1.0412);-webkit-text-stroke:0.12px currentColor;">podatkov in U nima varnostnih kopij (lahko da je</div>
<div class="t" id="t97" style="left:1272.83px;top:648.46px;font-size:16px;color:#1a1a1a;font-weight:400;font-style:italic;line-height:16px;transform:scaleX(1.0596);-webkit-text-stroke:0.12px currentColor;">treba obvestiti tudi posamzenike</div>
<div class="t" id="t98" style="left:1056.96px;top:693.21px;font-size:32px;color:#fff;font-weight:700;font-style:normal;line-height:32px;transform:scaleX(0.8864);">VELIKO</div>
<div class="t" id="t99" style="left:1056.94px;top:731.11px;font-size:32px;color:#fff;font-weight:700;font-style:normal;line-height:32px;transform:scaleX(0.9087);">TVEGANJE</div>
<div class="t" id="t100" style="left:1055.78px;top:782.14px;font-size:25px;color:#fff;font-weight:400;font-style:normal;line-height:25px;transform:scaleX(1.0167);">za pravice in</div>
<div class="t" id="t101" style="left:1055.65px;top:811.74px;font-size:25px;color:#fff;font-weight:400;font-style:normal;line-height:25px;transform:scaleX(1.0488);">svoboščine</div>
<div class="t" id="t102" style="left:1328.24px;top:727.80px;font-size:43px;color:#111;font-weight:700;font-style:normal;line-height:43px;transform:scaleX(0.8593);-webkit-text-stroke:0.9px currentColor;">U</div>
<div class="t" id="t103" style="left:1396.42px;top:730.32px;font-size:19px;color:#fff;font-weight:700;font-style:normal;line-height:19px;transform:scaleX(1.0030);">obvesti</div>
<div class="t" id="t104" style="left:1395.97px;top:803.90px;font-size:28px;color:#1a1a1a;font-weight:700;font-style:normal;line-height:28px;transform:scaleX(0.9060);">TAKOJ</div>
<div class="t" id="t105" style="left:1404.98px;top:831.70px;font-size:15px;color:#1a1a1a;font-weight:400;font-style:normal;line-height:15px;transform:scaleX(0.9239);">po zaznavi</div>
<div class="t" id="t106" style="left:1417.36px;top:848.90px;font-size:15px;color:#1a1a1a;font-weight:400;font-style:normal;line-height:15px;transform:scaleX(0.9581);">kršitve</div>
<div class="t" id="t107" style="left:1056.87px;top:874.16px;font-size:16px;color:#fff;font-weight:700;font-style:italic;line-height:16px;transform:scaleX(0.9667);">PRIMERI:</div>
<div class="t" id="t108" style="left:1055.47px;top:902.76px;font-size:16px;color:#fff;font-weight:400;font-style:italic;line-height:16px;transform:scaleX(1.0503);-webkit-text-stroke:0.5px currentColor;">V kibernetskem napadu ukradejo številke kreditnih kartic gostov hotela.</div>
<div class="t" id="t109" style="left:1056.78px;top:931.86px;font-size:16px;color:#fff;font-weight:400;font-style:italic;line-height:16px;transform:scaleX(1.0455);-webkit-text-stroke:0.5px currentColor;">Bančni komitent je prejel izpisek drugega komitenta (včasih - odvisno od</div>
<div class="t" id="t110" style="left:1056.78px;top:952.06px;font-size:16px;color:#fff;font-weight:400;font-style:italic;line-height:16px;transform:scaleX(1.0806);-webkit-text-stroke:0.5px currentColor;">občutljivosti podatkov).</div>
<div class="t" id="t111" style="left:1056.81px;top:981.66px;font-size:16px;color:#fff;font-weight:400;font-style:italic;line-height:16px;transform:scaleX(1.0358);-webkit-text-stroke:0.5px currentColor;">Na spletu se objavijo uporabniška imena, gesla in zgodovina nakupov</div>
<div class="t" id="t112" style="left:1056.80px;top:1001.86px;font-size:16px;color:#fff;font-weight:400;font-style:italic;line-height:16px;transform:scaleX(1.0543);-webkit-text-stroke:0.5px currentColor;">strank spletne trgovine.</div>
<div class="t" id="t113" style="left:942.69px;top:870.73px;font-size:26px;color:#fff;font-weight:700;font-style:italic;line-height:26px;transform:rotate(-90deg) scaleX(0.7873);">UKREPANJE JE ODVISNO OD OCENJENEGA TVEGANAJA</div>
<div class="t" id="t114" style="left:1059.63px;top:1084.62px;font-size:19px;color:#1a1a1a;font-weight:700;font-style:normal;line-height:19px;transform:scaleX(1.0256);">www.ip-rs.si:</div>
<div class="t" id="t115" style="left:1058.57px;top:1108.42px;font-size:19px;color:#555;font-weight:700;font-style:italic;line-height:19px;transform:scaleX(0.9900);">Prijava kršitev</div>
<div class="t" id="t116" style="left:1057.73px;top:1132.22px;font-size:19px;color:#555;font-weight:700;font-style:italic;line-height:19px;transform:scaleX(0.9753);">varnosti</div>
<div class="t" id="t117" style="left:1213.41px;top:1084.62px;font-size:19px;color:#1a1a1a;font-weight:700;font-style:normal;line-height:19px;transform:scaleX(1.0130);">obrazec:</div>
<div class="t" id="t118" style="left:1212.53px;top:1108.42px;font-size:19px;color:#555;font-weight:700;font-style:italic;line-height:19px;transform:scaleX(0.9838);">Uradno obvestilo</div>
<div class="t" id="t119" style="left:1213.50px;top:1132.22px;font-size:19px;color:#555;font-weight:700;font-style:italic;line-height:19px;transform:scaleX(0.9771);">o kršitvi varnosti</div>
<div class="t" id="t120" style="left:1213.50px;top:1155.92px;font-size:19px;color:#555;font-weight:700;font-style:italic;line-height:19px;transform:scaleX(0.9695);">osebnih podatkov</div>
<div class="t" id="t121" style="left:1520.42px;top:1113.49px;font-size:19.5px;color:#5b9bc6;font-weight:400;font-style:normal;line-height:19.5px;transform:scaleX(0.9602);-webkit-text-stroke:0;"><span style="letter-spacing:1.2px">INFORMACIJSK</span>I</div>
<div class="t" id="t122" style="left:1521.07px;top:1138.29px;font-size:19.5px;color:#5b9bc6;font-weight:400;font-style:normal;line-height:19.5px;transform:scaleX(0.8988);-webkit-text-stroke:0;"><span style="letter-spacing:1.2px">POOBLAŠČENE</span>C</div>
</body></html>
